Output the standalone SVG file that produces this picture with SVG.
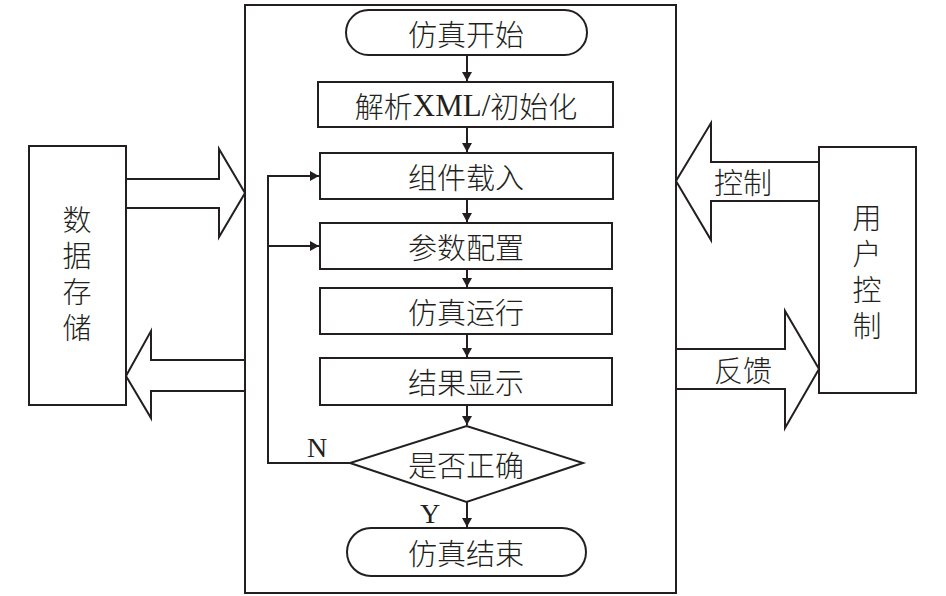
<svg xmlns="http://www.w3.org/2000/svg" width="946" height="596" viewBox="0 0 946 596">
<defs>
<style>
.s{fill:#fff;stroke:#231f20;stroke-width:2}
.l{fill:none;stroke:#231f20;stroke-width:2}
.t{font-family:"Noto Sans CJK SC","Noto Sans CJK JP",sans-serif;font-size:29px;fill:#231f20;text-anchor:middle;dominant-baseline:central;font-weight:300}
.v{font-family:"Noto Sans CJK SC","Noto Sans CJK JP",sans-serif;font-size:29px;fill:#231f20;writing-mode:vertical-rl;letter-spacing:7px;font-weight:300}
.r{font-family:"Liberation Serif",serif;font-size:28px;fill:#231f20;text-anchor:middle;dominant-baseline:central}
</style>
<marker id="ah" markerUnits="userSpaceOnUse" markerWidth="12" markerHeight="12" refX="9" refY="5" orient="auto">
<path d="M0,0 L9,5 L0,10 Z" fill="#231f20"/>
</marker>
</defs>
<rect width="946" height="596" fill="#fff"/>
<g id="frame"><rect class="s" x="245" y="5" width="431" height="588"/></g>
<g id="storage">
<rect class="s" x="29" y="146" width="97" height="259"/>
<text class="v" x="77" y="205">数据存储</text>
</g>
<g id="user">
<rect class="s" x="819" y="147" width="97" height="246"/>
<text class="v" x="867" y="203">用户控制</text>
</g>
<g id="store-in"><path class="l" d="M126,179 H219 V149 L245,193 L219,237 V208 H126"/></g>
<g id="store-out"><path class="l" d="M245,360 H151 V331 L126,376 L151,418 V391 H245"/></g>
<g id="ctrl"><path class="l" d="M819,162 H711 V123 L676,181 L711,240 V201 H819"/><text class="t" x="743" y="181">控制</text></g>
<g id="feedback"><path class="l" d="M676,349 H785 V311 L819,369 L785,428 V389 H676"/><text class="t" x="743" y="369">反馈</text></g>
<g id="start"><rect class="s" x="346" y="10" width="241" height="45" rx="22.5"/><text class="t" x="466" y="33">仿真开始</text></g>
<g id="parse"><rect class="s" x="318" y="82" width="295" height="45"/><text class="t" x="466" y="105">解析<tspan style="font-family:'Liberation Serif',serif;font-size:31px">XML/</tspan>初始化</text></g>
<g id="load"><rect class="s" x="320" y="153" width="293" height="46"/><text class="t" x="466" y="176">组件载入</text></g>
<g id="config"><rect class="s" x="320" y="223" width="292" height="46"/><text class="t" x="466" y="246">参数配置</text></g>
<g id="run"><rect class="s" x="320" y="288" width="292" height="46"/><text class="t" x="466" y="311">仿真运行</text></g>
<g id="show"><rect class="s" x="320" y="358" width="292" height="47"/><text class="t" x="466" y="381">结果显示</text></g>
<g id="check"><path class="s" d="M466.5,426 L583,463 L466.5,502 L350,463 Z"/><text class="t" x="466" y="464">是否正确</text></g>
<g id="end"><rect class="s" x="347" y="528" width="239" height="48" rx="24"/><text class="t" x="466" y="552">仿真结束</text></g>
<g id="connectors">
<path class="l" d="M467,55 V81" marker-end="url(#ah)"/>
<path class="l" d="M467,127 V152" marker-end="url(#ah)"/>
<path class="l" d="M467,199 V222" marker-end="url(#ah)"/>
<path class="l" d="M467,269 V287" marker-end="url(#ah)"/>
<path class="l" d="M467,334 V357" marker-end="url(#ah)"/>
<path class="l" d="M467,405 V425" marker-end="url(#ah)"/>
<path class="l" d="M467,502 V527" marker-end="url(#ah)"/>
<path class="l" d="M350,463 H268 V176 H319" marker-end="url(#ah)"/>
<path class="l" d="M268,246 H319" marker-end="url(#ah)"/>
<text class="r" x="317" y="447">N</text>
<text class="r" x="430" y="513">Y</text>
</g>
</svg>
